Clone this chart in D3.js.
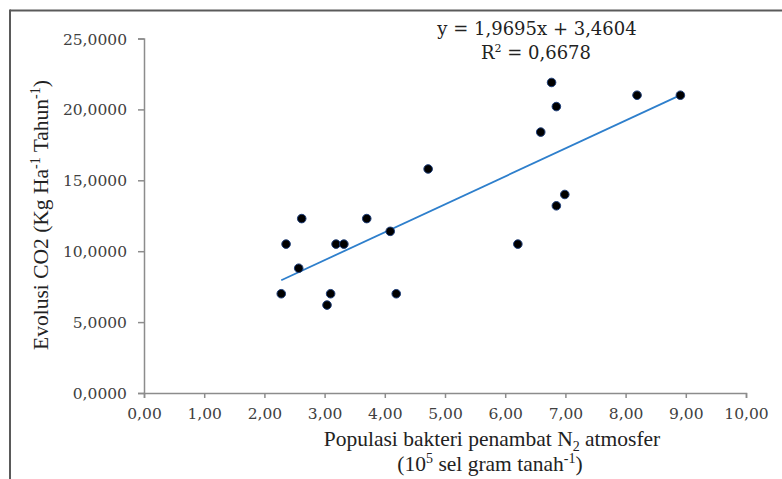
<!DOCTYPE html>
<html>
<head>
<meta charset="utf-8">
<script src="https://cdn.jsdelivr.net/npm/d3@7"></script>
<style>
html,body{margin:0;padding:0;background:#fff;}
svg{display:block;}
</style>
</head>
<body>
<svg id="chart" width="782" height="479"></svg>
<script>
// Data
const xValues = [2.28, 2.36, 2.57, 2.62, 3.04, 3.10, 3.19, 3.32, 3.70, 4.09, 4.19, 4.72, 6.21, 6.59, 6.77, 6.85, 6.85, 6.99, 8.19, 8.91];
const yValues = [7.0, 10.5, 8.8, 12.3, 6.2, 7.0, 10.5, 10.5, 12.3, 11.4, 7.0, 15.8, 10.5, 18.4, 21.9, 20.2, 13.2, 14.0, 21.0, 21.0];
const xTicks = [0,1,2,3,4,5,6,7,8,9,10];
const yTicks = [0,5,10,15,20,25];
const slope = 1.9695, intercept = 3.4604;
const equationText = "y = 1,9695x + 3,4604";
const r2Value = "0,6678";

const svg = d3.select("#chart");
const mLeft = 144, mRight = 746, mTop = 38.5, mBottom = 393;

const x = d3.scaleLinear().domain([0,10]).range([mLeft,mRight]);
const y = d3.scaleLinear().domain([0,25]).range([mBottom,mTop]);

// outer frame (top and left lines)
svg.append("line").attr("x1",10).attr("x2",782).attr("y1",10.5).attr("y2",10.5)
  .attr("stroke","#5a5a5a").attr("stroke-width",2);
svg.append("line").attr("x1",10).attr("x2",10).attr("y1",9.5).attr("y2",479)
  .attr("stroke","#5a5a5a").attr("stroke-width",2);

const fmtX = d => d3.format(".2f")(d).replace(".", ",");
const fmtY = d => d3.format(".4f")(d).replace(".", ",");

const xAxis = svg.append("g").attr("transform",`translate(0,${mBottom})`)
  .call(d3.axisBottom(x).tickValues(xTicks).tickFormat(fmtX).tickSize(5).tickSizeOuter(5).tickPadding(10));
const yAxis = svg.append("g").attr("transform",`translate(${mLeft},0)`)
  .call(d3.axisLeft(y).tickValues(yTicks).tickFormat(fmtY).tickSize(6).tickSizeOuter(6).tickPadding(11));

[xAxis,yAxis].forEach(g=>{
  g.select(".domain").attr("stroke","#8c8c8c").attr("stroke-width",1.5);
  g.selectAll(".tick line").attr("stroke","#8c8c8c").attr("stroke-width",1.5);
  g.selectAll(".tick text").attr("fill","#404040")
    .style("font-family","'DejaVu Serif', serif").style("font-size","15.5px");
});
yAxis.selectAll(".tick text").attr("dy","0.36em");

// trendline
const xMin = d3.min(xValues), xMax = d3.max(xValues);
svg.append("line")
  .attr("x1",x(xMin)).attr("y1",y(slope*xMin+intercept))
  .attr("x2",x(xMax)).attr("y2",y(slope*xMax+intercept))
  .attr("stroke","#2e7fcc").attr("stroke-width",1.8);

// points
svg.append("g").selectAll("circle").data(xValues.map((v,i)=>[v,yValues[i]])).join("circle")
  .attr("cx",d=>x(d[0])).attr("cy",d=>y(d[1])).attr("r",4.3)
  .attr("fill","#000").attr("stroke","#1f3f7a").attr("stroke-width",1);

// equation
const eq = svg.append("g").style("font-family","'DejaVu Serif', serif").style("font-size","18px").attr("fill","#222");
eq.append("text").attr("x",537).attr("y",35).attr("text-anchor","middle").text(equationText);
const r2 = eq.append("text").attr("x",536).attr("y",59).attr("text-anchor","middle");
r2.append("tspan").text("R");
r2.append("tspan").attr("dy",-7).style("font-size","11px").text("2");
r2.append("tspan").attr("dy",7).text(" = " + r2Value);

// x title
const xt = svg.append("g").style("font-family","'Liberation Serif', 'Times New Roman', serif").style("font-size","21.5px").attr("fill","#222");
const l1 = xt.append("text").attr("x",492).attr("y",446).attr("text-anchor","middle");
l1.append("tspan").text("Populasi bakteri penambat N");
l1.append("tspan").attr("dy",5).style("font-size","14px").text("2");
l1.append("tspan").attr("dy",-5).text(" atmosfer");
const l2 = xt.append("text").attr("x",490).attr("y",471).attr("text-anchor","middle");
l2.append("tspan").text("(10");
l2.append("tspan").attr("dy",-8).style("font-size","14px").text("5");
l2.append("tspan").attr("dy",8).text(" sel gram tanah");
l2.append("tspan").attr("dy",-8).style("font-size","14px").text("-1");
l2.append("tspan").attr("dy",8).text(")");

// y title
const yt = svg.append("text").attr("transform","translate(48,215) rotate(-90)")
  .attr("text-anchor","middle").style("font-family","'Liberation Serif', 'Times New Roman', serif").style("font-size","21.5px").attr("fill","#222");
yt.append("tspan").text("Evolusi CO2 (Kg Ha");
yt.append("tspan").attr("dy",-8).style("font-size","14px").text("-1");
yt.append("tspan").attr("dy",8).text(" Tahun");
yt.append("tspan").attr("dy",-8).style("font-size","14px").text("-1");
yt.append("tspan").attr("dy",8).text(")");
</script>
</body>
</html>
